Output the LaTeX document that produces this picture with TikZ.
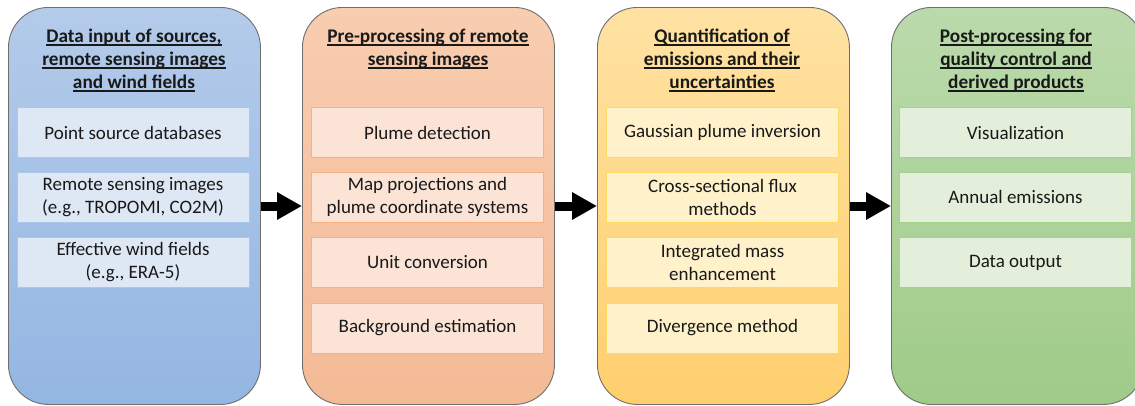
\documentclass[tikz,border=0pt]{standalone}
\usepackage{fontspec}
\setmainfont{Carlito}
\usetikzlibrary{arrows.meta}
\definecolor{blueTop}{HTML}{B4CBEA}
\definecolor{blueBot}{HTML}{93B6E2}
\definecolor{blueIn}{HTML}{DEE8F4}
\definecolor{blueLine}{HTML}{A9C8EC}
\definecolor{peachTop}{HTML}{F8CDB0}
\definecolor{peachBot}{HTML}{F4BA96}
\definecolor{peachIn}{HTML}{FBE4D5}
\definecolor{peachLine}{HTML}{F4B183}
\definecolor{yellowTop}{HTML}{FFE2A3}
\definecolor{yellowBot}{HTML}{FFCF6E}
\definecolor{yellowIn}{HTML}{FFF1CA}
\definecolor{yellowLine}{HTML}{FFD966}
\definecolor{greenTop}{HTML}{BBDAAC}
\definecolor{greenBot}{HTML}{9FCB89}
\definecolor{greenIn}{HTML}{E3EFDA}
\definecolor{greenLine}{HTML}{A3D38C}
\definecolor{rimGray}{HTML}{6E6E6E}
\newcommand{\ulin}[1]{\setbox0\hbox{#1}\rlap{\rule[-3pt]{\wd0}{1.3pt}}\box0}
\begin{document}
\begin{tikzpicture}
		[x=1pt,y=-1pt,
		every node/.style={font=\fontsize{19}{23}\selectfont,align=center,text=black!90},
		column/.style={draw=rimGray,line width=0.9pt,rounded corners=40pt,
			minimum width=252pt,minimum height=397pt,anchor=north west,inner sep=0pt},
		heading/.style={anchor=north,font=\fontsize{19.3}{23}\selectfont\bfseries,inner sep=0pt},
		item/.style={minimum width=232pt,minimum height=50pt,inner sep=0pt,line width=0.8pt},
		bigarrow/.style={line width=9pt,-{Triangle[length=25pt,width=26pt]}},
		]
		\useasboundingbox (0,0) rectangle (1135,405);

		% the four columns
		\node[column,top color=blueTop,bottom color=blueBot] (input) at (8,7) {};
		\node[column,top color=peachTop,bottom color=peachBot] (prep) at (302,7) {};
		\node[column,top color=yellowTop,bottom color=yellowBot] (quant) at (597,7) {};
		\node[column,top color=greenTop,bottom color=greenBot] (post) at (891,7) {};

		\node[heading] (inputT) at (134,29)
			{\ulin{Data input of sources,}\\\ulin{remote sensing images}\\\ulin{and wind fields}};
		\node[heading] (prepT) at (428,29)
			{\ulin{Pre-processing of remote}\\\ulin{sensing images}};
		\node[heading] (quantT) at (722,29)
			{\ulin{Quantification of}\\\ulin{emissions and their}\\\ulin{uncertainties}};
		\node[heading] (postT) at (1016,29)
			{\ulin{Post-processing for}\\\ulin{quality control and}\\\ulin{derived products}};

		% boxes of the first column
		\node[item,fill=blueIn,draw=blueLine] (pointDb) at (133,132.5) {Point source databases};
		\node[item,fill=blueIn,draw=blueLine] (rsImages) at (133,197) {Remote sensing images\\(e.g., TROPOMI, CO2M)};
		\node[item,fill=blueIn,draw=blueLine] (windFields) at (133,262.5) {Effective wind fields\\(e.g., ERA-5)};

		% boxes of the second column
		\node[item,fill=peachIn,draw=peachLine] (plumeDet) at (427.5,132.5) {Plume detection};
		\node[item,fill=peachIn,draw=peachLine] (mapProj) at (427.5,197) {Map projections and\\plume coordinate systems};
		\node[item,fill=peachIn,draw=peachLine] (unitConv) at (427.5,262.5) {Unit conversion};
		\node[item,fill=peachIn,draw=peachLine] (bgEst) at (427.5,328) {Background estimation};

		% boxes of the third column
		\node[item,fill=yellowIn,draw=yellowLine] (gaussInv) at (722.5,132.5) {Gaussian plume inversion};
		\node[item,fill=yellowIn,draw=yellowLine] (csf) at (722.5,197) {Cross-sectional flux\\methods};
		\node[item,fill=yellowIn,draw=yellowLine] (ime) at (722.5,262.5) {Integrated mass\\enhancement};
		\node[item,fill=yellowIn,draw=yellowLine] (divMeth) at (722.5,328) {Divergence method};

		% boxes of the fourth column
		\node[item,fill=greenIn,draw=greenLine] (visual) at (1015.5,132.5) {Visualization};
		\node[item,fill=greenIn,draw=greenLine] (annual) at (1015.5,197) {Annual emissions};
		\node[item,fill=greenIn,draw=greenLine] (dataOut) at (1015.5,262.5) {Data output};

		\draw[bigarrow] (input.east |- 0,206) -- (prep.west |- 0,206);
		\draw[bigarrow] (prep.east |- 0,206) -- (quant.west |- 0,206);
		\draw[bigarrow] (quant.east |- 0,206) -- (post.west |- 0,206);
	\end{tikzpicture}
\end{document}
